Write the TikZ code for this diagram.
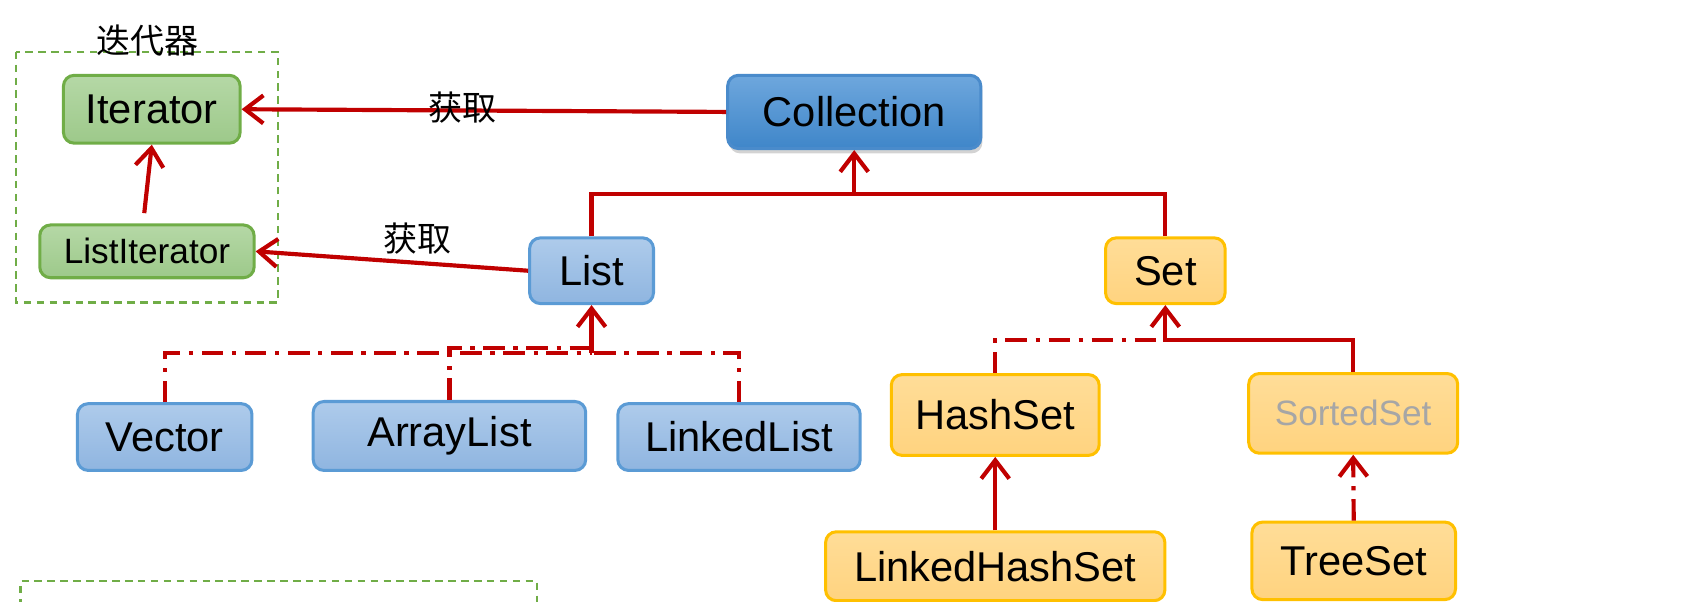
\documentclass[tikz,border=0pt]{standalone}
\usepackage{fontspec}
\setmainfont{Liberation Sans}
\newfontfamily\cjk{Noto Sans CJK SC}
\usetikzlibrary{arrows.meta,shadows}
\definecolor{arrred}{HTML}{C00000}
\definecolor{bluetop}{HTML}{AECBEB}
\definecolor{bluebot}{HTML}{8FB5E0}
\definecolor{blueline}{HTML}{5B9BD5}
\definecolor{colltop}{HTML}{6EA7DD}
\definecolor{collbot}{HTML}{3F86C9}
\definecolor{collline}{HTML}{4A8BCB}
\definecolor{orgtop}{HTML}{FFDD98}
\definecolor{orgbot}{HTML}{FFD37F}
\definecolor{orgline}{HTML}{FFC000}
\definecolor{grntop}{HTML}{B5D8A6}
\definecolor{grnbot}{HTML}{9DC98A}
\definecolor{grnline}{HTML}{70AD47}
\definecolor{graytext}{HTML}{A6A6A6}
\tikzset{
  box/.style={rounded corners=0.1cm, draw, line width=0.8pt, inner sep=0pt,
    font=\fontsize{11}{13}\selectfont},
  bluebox/.style={box, draw=blueline, top color=bluetop, bottom color=bluebot},
  collbox/.style={box, draw=collline, top color=colltop, bottom color=collbot,
    drop shadow={shadow xshift=0.015cm, shadow yshift=-0.045cm, opacity=0.35}},
  orgbox/.style={box, draw=orgline, top color=orgtop, bottom color=orgbot},
  grnbox/.style={box, draw=grnline, top color=grntop, bottom color=grnbot},
  small/.style={font=\fontsize{9.3}{11}\selectfont},
  conn/.style={draw=arrred, line width=1.1pt,
    -{Straight Barb[length=0.17cm,width=0.26cm,line width=1.1pt]}},
  plain/.style={draw=arrred, line width=1.1pt},
  ddash/.style={dash pattern=on 0.2cm off 0.08cm on 0.04cm off 0.08cm},
  grndash/.style={draw=grnline, line width=0.6pt, dash pattern=on 0.07cm off 0.05cm},
  lbl/.style={font=\cjk\fontsize{9}{11}\selectfont, inner sep=0pt}
}
\begin{document}
\begin{tikzpicture}[x=0.01cm,y=-0.01cm]
\useasboundingbox (0,0) rectangle (1568,559);

% iterator group
\draw[grndash] (15,48) rectangle (258,281);
\node[lbl] (title) at (137,38) {迭代器};
\node[grnbox, minimum width=1.64cm, minimum height=0.63cm] (iter) at (141,101.5) {Iterator};
\node[grnbox, small, minimum width=1.99cm, minimum height=0.49cm] (liter) at (136.5,233.5) {ListIterator};

% main nodes
\node[collbox, minimum width=2.35cm, minimum height=0.68cm] (coll) at (793.5,104) {Collection};
\node[bluebox, minimum width=1.15cm, minimum height=0.61cm] (list) at (549.5,251.5) {List};
\node[orgbox, minimum width=1.11cm, minimum height=0.61cm] (set) at (1082.5,251.5) {Set};

\node[bluebox, minimum width=1.62cm, minimum height=0.62cm] (vector) at (153,406) {Vector};
\node[bluebox, minimum width=2.53cm, minimum height=0.64cm] (alist) at (417.5,405) {ArrayList};
\node[bluebox, minimum width=2.25cm, minimum height=0.62cm] (llist) at (686.5,406) {LinkedList};

\node[orgbox, minimum width=1.93cm, minimum height=0.75cm] (hset) at (924.5,385.5) {HashSet};
\node[orgbox, small, text=graytext, minimum width=1.94cm, minimum height=0.74cm] (sset) at (1257,384) {SortedSet};
\node[orgbox, minimum width=3.15cm, minimum height=0.64cm] (lhset) at (924.5,526) {LinkedHashSet};
\node[orgbox, minimum width=1.89cm, minimum height=0.72cm] (tset) at (1257.5,521) {TreeSet};

% bottom group frame (cut by the page edge)
\draw[grndash] (19,575) -- (19,540) -- (499,540) -- (499,575);

% connectors
\coordinate (lstart) at (134,198);
\draw[conn] (lstart) -- (iter.south);
\draw[conn] (coll.west) -- (iter.east);
\node[lbl] (get1) at (430,100) {获取};
\draw[conn] (list.west) -- (liter.east);
\node[lbl] (get2) at (388,222) {获取};

\coordinate (j1) at (793.5,180);
\draw[plain] (set.north) |- (j1);
\draw[conn] (list.north) |- (j1) -- (coll.south);

\coordinate (j2) at (549.5,328);
\coordinate (j2a) at (549.5,323);
\draw[plain, ddash] (vector.north) |- (j2);
\draw[plain, ddash] (llist.north) |- (j2);
\draw[plain, ddash] (alist.north) |- (j2a);
\draw[conn] (j2) -- (list.south);

\coordinate (j3) at (1082.5,316);
\draw[plain, ddash] (hset.north) |- (j3);
\draw[conn] (sset.north) |- (j3) -- (set.south);

\draw[conn] (lhset.north) -- (hset.south);
\draw[conn, ddash] (tset.north) -- (sset.south);
\end{tikzpicture}
\end{document}
